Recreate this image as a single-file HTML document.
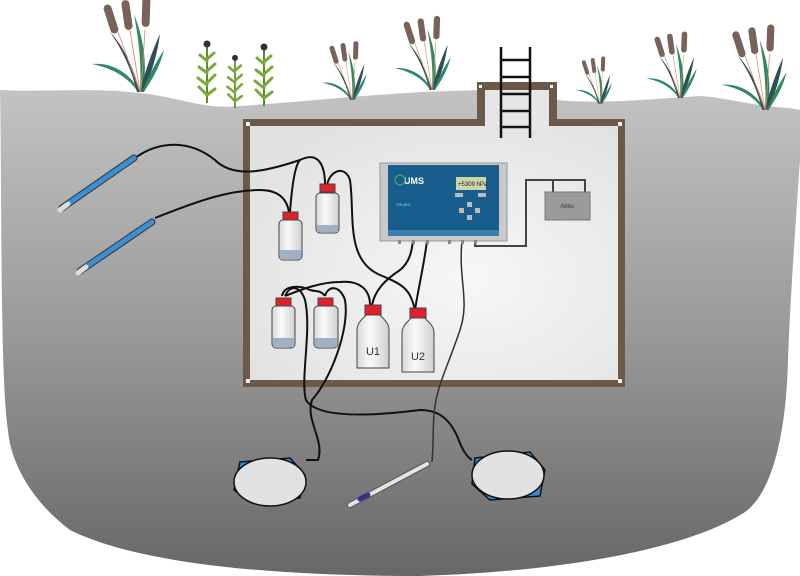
<!DOCTYPE html>
<html><head><meta charset="utf-8"><style>
html,body{margin:0;padding:0;background:#fff}
svg{display:block}
text{font-family:"Liberation Sans",sans-serif}
</style></head><body>
<svg width="800" height="576" viewBox="0 0 800 576" xmlns="http://www.w3.org/2000/svg">
<defs>
<linearGradient id="soil" x1="0" y1="0" x2="0" y2="1">
<stop offset="0" stop-color="#c4c4c4"/><stop offset="0.5" stop-color="#9a9a9a"/><stop offset="1" stop-color="#676767"/>
</linearGradient>
<radialGradient id="room" cx="0.6" cy="0.6" r="0.7">
<stop offset="0" stop-color="#f7f7f7"/><stop offset="1" stop-color="#e2e2e2"/>
</radialGradient>
<linearGradient id="glass" x1="0" x2="1">
<stop offset="0" stop-color="#d8d8d8"/><stop offset="0.4" stop-color="#fafafa"/><stop offset="1" stop-color="#cfcfcf"/>
</linearGradient>
<g id="cat">
<path d="M0,0 C-10,-20 -30,-30 -48,-28 C-28,-24 -12,-15 -2,0Z" fill="#2e8a63"/>
<path d="M0,0 C-8,-30 -20,-50 -30,-60 C-16,-40 -8,-20 -3,0Z" fill="#2f4f55"/>
<path d="M0,0 C2,-30 -2,-55 -6,-78 C5,-50 7,-25 3,0Z" fill="#2e8a63"/>
<path d="M0,0 C6,-25 14,-45 20,-58 C17,-35 10,-15 3,0Z" fill="#2f4f55"/>
<path d="M2,0 C8,-15 16,-30 24,-42 C19,-22 10,-10 4,0Z" fill="#2e8a63"/>
<path d="M0,0 L-22,-60 M0,0 L-10,-62 M1,0 L5,-62" stroke="#e08060" stroke-width="0.8" fill="none"/>
<rect x="-33" y="-88" width="8" height="30" rx="4" fill="#786259" transform="rotate(-18 -29 -73)"/>
<rect x="-17" y="-92" width="8" height="30" rx="4" fill="#786259" transform="rotate(-8 -13 -77)"/>
<rect x="2" y="-95" width="8" height="30" rx="4" fill="#786259" transform="rotate(2 5 -80)"/>
</g>
<g id="corn">
<path d="M0,0 L0,-58" stroke="#5a8a2a" stroke-width="2"/>
<path d="M0,-8 l-8,-8 M0,-8 l8,-6 M0,-18 l-9,-7 M0,-20 l8,-8 M0,-30 l-8,-6 M0,-32 l8,-7 M0,-42 l-7,-6 M0,-44 l7,-6" stroke="#7aa83a" stroke-width="3" stroke-linecap="round"/>
<circle cx="0" cy="-59" r="3.5" fill="#333"/>
</g>
</defs>

<path d="M0,90 C40,92 90,88 130,92 C180,96 200,110 240,106 C300,102 330,98 420,92 L480,90 L480,82 L556,82 L556,100 C600,104 640,100 700,96 C730,98 750,106 790,108 L800,110 L800,160 C796,220 790,300 788,360 C786,440 770,500 740,515 C700,540 600,570 420,576 C250,576 130,560 70,530 C30,500 10,460 8,430 C0,380 2,200 0,90Z" fill="url(#soil)"/>

<use href="#cat" transform="translate(140,92) scale(1)"/>
<use href="#cat" transform="translate(352,100) scale(0.62)"/>
<use href="#cat" transform="translate(432,90) scale(0.78)"/>
<use href="#cat" transform="translate(600,104) scale(0.5)"/>
<use href="#cat" transform="translate(680,98) scale(0.7)"/>
<use href="#cat" transform="translate(765,110) scale(0.9)"/>
<use href="#corn" transform="translate(207,103)"/>
<use href="#corn" transform="translate(235,108) scale(0.85)"/>
<use href="#corn" transform="translate(264,106)"/>

<rect x="243" y="119" width="382" height="268" fill="#6b5a4a"/>
<rect x="477" y="82" width="80" height="45" fill="#6b5a4a"/>
<rect x="250" y="126" width="368" height="254" fill="url(#room)"/>
<rect x="485" y="90" width="64" height="40" fill="#e6e6e6"/>
<g fill="#f3efe6"><rect x="246" y="122" width="4" height="4"/><rect x="618" y="122" width="4" height="4"/><rect x="246" y="379" width="4" height="4"/><rect x="618" y="379" width="4" height="4"/><rect x="479" y="85" width="3" height="3"/><rect x="550" y="85" width="3" height="3"/></g>
<g stroke="#111" stroke-width="2.5"><line x1="501" y1="47" x2="501" y2="138"/><line x1="530" y1="47" x2="530" y2="138"/>
<line x1="501" y1="60" x2="530" y2="60"/><line x1="501" y1="77" x2="530" y2="77"/><line x1="501" y1="94" x2="530" y2="94"/><line x1="501" y1="111" x2="530" y2="111"/><line x1="501" y1="127" x2="530" y2="127"/></g>

<g fill="none" stroke="#111" stroke-width="2">
<path d="M135,158 C160,140 190,140 215,160 C235,180 270,170 300,160 C320,150 325,168 325,185"/>
<path d="M300,160 C295,165 292,185 290,212"/>
<path d="M155,218 C200,200 230,190 260,190 C280,190 287,200 289,212"/>
<path d="M327,185 C330,170 345,165 350,180 C355,215 345,260 380,275 C405,285 410,290 415,310"/>
<path d="M415,310 C418,290 425,260 427,240"/>
<path d="M372,305 C375,290 385,280 400,270 C410,262 412,250 413,240"/>
<path d="M370,305 C370,290 360,280 340,282 C320,282 300,290 285,296"/>
<path d="M282,296 C284,285 300,285 310,290 C318,292 320,290 325,296"/>
<path d="M285,296 C290,285 300,285 305,300 C312,330 300,380 306,400 C318,420 380,415 420,410 C440,410 450,420 458,438 C462,450 468,458 472,460"/>
<path d="M325,296 C328,285 340,285 345,300 C350,330 330,380 312,400 C305,420 325,440 318,460 L306,460"/>
</g>
<path d="M462,240 C458,280 470,300 460,330 C450,360 440,380 436,400 C432,420 434,440 432,462" fill="none" stroke="#333" stroke-width="1.5"/>
<path d="M475,240 L475,246 L526,246 L526,180 L585,180 L585,192 M526,180 L553,180 L553,192" fill="none" stroke="#444" stroke-width="2"/>

<rect x="380" y="163" width="127" height="78" fill="#c9c9c9" stroke="#999"/>
<rect x="388" y="165" width="111" height="71" fill="#175e8e"/>
<rect x="388" y="230" width="111" height="6" fill="#3a7eae"/>
<text x="404" y="184" font-size="9" font-weight="bold" fill="#fff">UMS</text>
<circle cx="400" cy="180" r="5" fill="none" stroke="#4fb04f" stroke-width="1"/>
<text x="396" y="206" font-size="4.5" fill="#9cc">VS-pro</text>
<rect x="456" y="177" width="30" height="13" fill="#cbd6a8"/>
<text x="458" y="186" font-size="6" fill="#222">+5309 hPa</text>
<g fill="#bbb"><rect x="455" y="193" width="8" height="4"/><rect x="478" y="193" width="8" height="4"/><rect x="467" y="202" width="5" height="5"/><rect x="459" y="208" width="5" height="5"/><rect x="475" y="208" width="5" height="5"/><rect x="467" y="215" width="5" height="5"/></g>
<g fill="#888"><rect x="398" y="240" width="3" height="4"/><rect x="412" y="240" width="3" height="4"/><rect x="426" y="240" width="3" height="4"/><rect x="448" y="240" width="3" height="4"/><rect x="461" y="240" width="3" height="4"/><rect x="474" y="240" width="3" height="4"/></g>
<rect x="545" y="192" width="45" height="28" fill="#9b9b9b" stroke="#777"/>
<text x="567" y="208" font-size="6" fill="#333" text-anchor="middle">Akku</text>

<g stroke="#444" stroke-width="1">
<rect x="279" y="220" width="23" height="40" rx="4" fill="url(#glass)"/><rect x="280" y="250" width="21" height="9" fill="#9fb1c4" stroke="none"/><rect x="283" y="212" width="15" height="8" fill="#e0202a"/>
<rect x="316" y="193" width="23" height="40" rx="4" fill="url(#glass)"/><rect x="317" y="225" width="21" height="7" fill="#9fb1c4" stroke="none"/><rect x="320" y="184" width="15" height="8" fill="#e0202a"/>
<rect x="272" y="306" width="23" height="42" rx="4" fill="url(#glass)"/><rect x="273" y="338" width="21" height="9" fill="#9fb1c4" stroke="none"/><rect x="276" y="298" width="15" height="8" fill="#e0202a"/>
<rect x="314" y="306" width="24" height="42" rx="4" fill="url(#glass)"/><rect x="315" y="338" width="22" height="9" fill="#9fb1c4" stroke="none"/><rect x="318" y="298" width="15" height="8" fill="#e0202a"/>
<path d="M357,330 C357,322 364,318 366,315 L380,315 C382,318 389,322 389,330 L389,368 L357,368Z" fill="url(#glass)"/><rect x="365" y="305" width="16" height="10" fill="#e0202a"/>
<path d="M402,333 C402,325 409,321 411,318 L425,318 C427,321 434,325 434,333 L434,372 L402,372Z" fill="url(#glass)"/><rect x="410" y="308" width="16" height="10" fill="#e0202a"/>
</g>
<text x="373" y="355" font-size="11" fill="#333" text-anchor="middle">U1</text>
<text x="418" y="360" font-size="11" fill="#333" text-anchor="middle">U2</text>

<g stroke-linecap="round">
<line x1="62" y1="208" x2="134" y2="158" stroke="#333" stroke-width="7"/><line x1="62" y1="208" x2="134" y2="158" stroke="#3b8fd6" stroke-width="5"/><line x1="60" y1="210" x2="68" y2="204" stroke="#ddd" stroke-width="5"/>
<line x1="80" y1="271" x2="152" y2="222" stroke="#333" stroke-width="7"/><line x1="80" y1="271" x2="152" y2="222" stroke="#3b8fd6" stroke-width="5"/><line x1="78" y1="273" x2="86" y2="267" stroke="#ddd" stroke-width="5"/>
<line x1="350" y1="505" x2="427" y2="464" stroke="#555" stroke-width="6"/><line x1="350" y1="505" x2="427" y2="464" stroke="#e4e4e4" stroke-width="4"/><line x1="360" y1="499" x2="368" y2="495" stroke="#33338a" stroke-width="5"/>
</g>

<g stroke="#111" stroke-width="1.5">
<path d="M240,462 L290,458 L305,475 L300,498 L250,502 L234,490Z" fill="#3a8ad0"/>
<ellipse cx="270" cy="482" rx="36" ry="24" fill="#e2e2e2"/>
<path d="M475,458 L530,452 L545,470 L540,496 L490,500 L472,484Z" fill="#3a8ad0"/>
<ellipse cx="508" cy="475" rx="36" ry="24" fill="#e2e2e2"/>
</g>
</svg>
</body></html>
